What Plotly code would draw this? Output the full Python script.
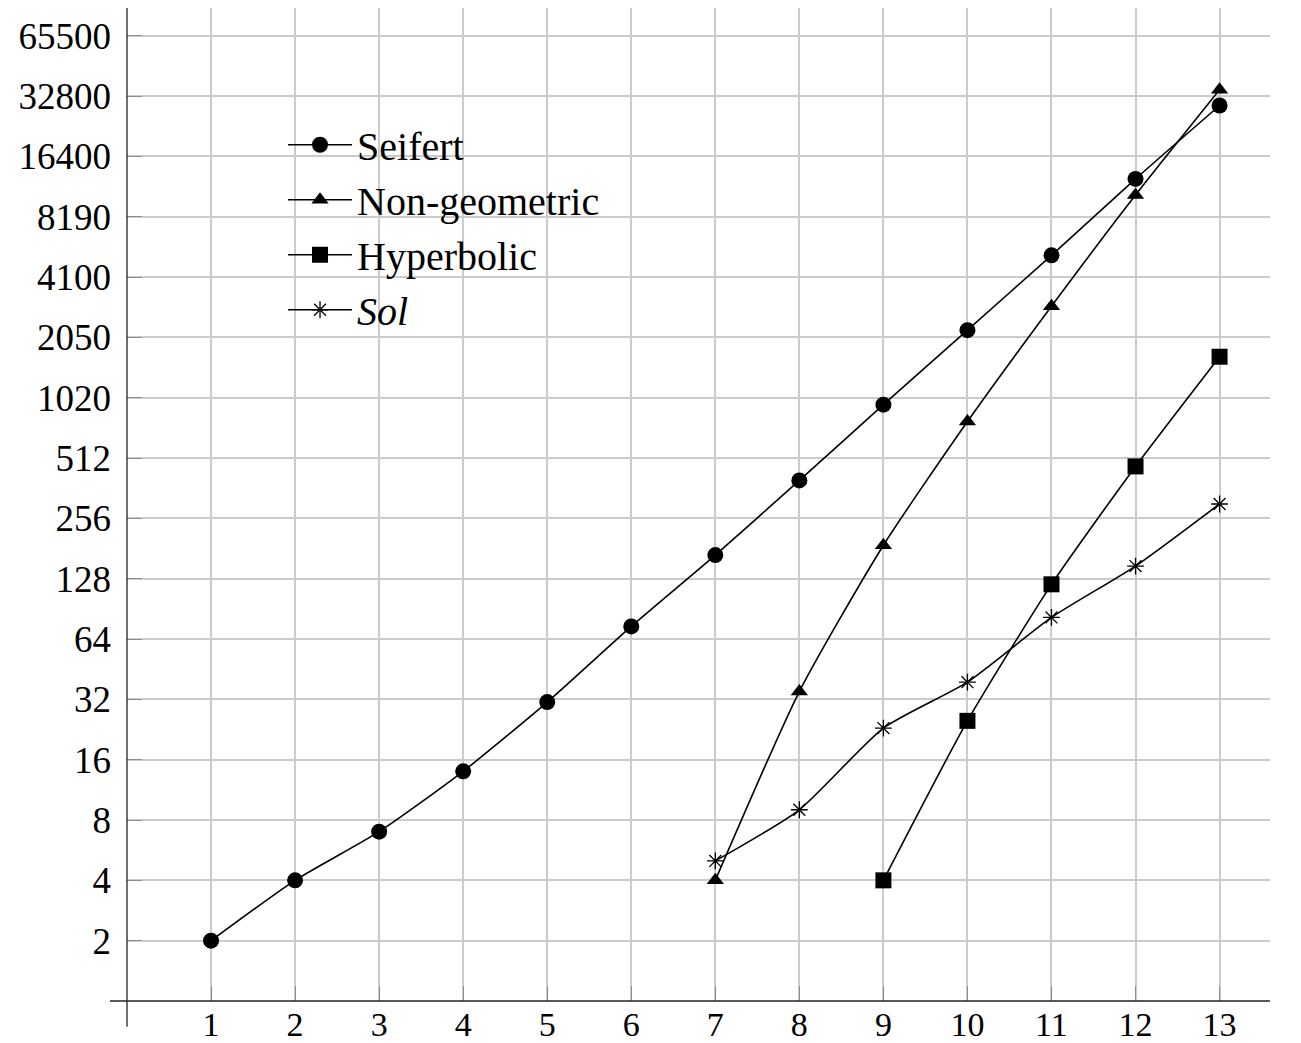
import math
import plotly.graph_objects as go

# ---- data ----
x_seifert = list(range(1, 14))
seifert = [2, 4, 7, 14, 31, 74, 168, 396, 945, 2225, 5260, 12650, 29400]

x_nongeo = list(range(7, 14))
nongeo = [4, 35, 188, 779, 2930, 10510, 35200]

x_hyper = list(range(9, 14))
hyper = [4, 25, 120, 465, 1640]

x_sol = list(range(7, 14))
sol = [5, 9, 23, 39, 82, 148, 302]

x_ticks = list(range(1, 14))
y_tickvals = [2 ** k for k in range(1, 17)]
y_ticktext = ["2", "4", "8", "16", "32", "64", "128", "256", "512",
              "1020", "2050", "4100", "8190", "16400", "32800", "65500"]

FONT = "Liberation Serif"
LINE_W = 1.6
GRID_C = "#cbcbcb"
TICK_C = "#8c8c8c"

fig = go.Figure()

def add(xs, ys, name, symbol, size, open_marker=False):
    marker = dict(symbol=symbol, size=size, color="black")
    if open_marker:
        marker["line"] = dict(color="black", width=1.3)
    fig.add_trace(go.Scatter(
        x=xs, y=ys, name=name, mode="lines+markers",
        line=dict(color="black", width=LINE_W, shape="spline", smoothing=0.6),
        marker=marker,
    ))

add(x_seifert, seifert, "Seifert", "circle", 16)
add(x_nongeo, nongeo, "Non-geometric", "triangle-up", 15)
add(x_hyper, hyper, "Hyperbolic", "square", 16)
add(x_sol, sol, "<i>Sol</i>", "asterisk-open", 14, open_marker=True)

x_range = [0, 13.6]
y_range = [0, 16.46 * math.log10(2)]

# page body has an 8px margin: figure is 8px smaller and offsets compensate
fig.update_layout(
    width=1293, height=1035,
    margin=dict(l=119, r=31, t=0, b=42),
    paper_bgcolor="white", plot_bgcolor="white",
    font=dict(family=FONT, size=37, color="black"),
    showlegend=True,
    legend=dict(
        x=0.1365, y=0.895, xanchor="left", yanchor="top",
        bgcolor="rgba(0,0,0,0)", borderwidth=0,
        font=dict(family=FONT, size=40, color="black"),
        tracegroupgap=0, itemwidth=64,
    ),
    xaxis=dict(
        range=x_range, tickvals=x_ticks, ticktext=[str(v) for v in x_ticks],
        showgrid=True, gridcolor=GRID_C, gridwidth=1.5,
        ticks="inside", ticklen=15, tickwidth=1.2, tickcolor=TICK_C,
        showline=False, zeroline=False, automargin=False,
        ticklabelstandoff=0,
        tickfont=dict(family=FONT, size=34),
    ),
    yaxis=dict(
        type="log", range=y_range, tickvals=y_tickvals, ticktext=y_ticktext,
        showgrid=True, gridcolor=GRID_C, gridwidth=1.5,
        ticks="inside", ticklen=15, tickwidth=1.2, tickcolor=TICK_C,
        showline=False, zeroline=False, automargin=False,
        ticklabelstandoff=15,
        tickfont=dict(family=FONT, size=37),
    ),
    xaxis2=dict(
        overlaying="x", range=x_range, tickvals=x_ticks,
        showticklabels=False, showgrid=False, zeroline=False,
        ticks="outside", ticklen=15, tickwidth=1.2, tickcolor=TICK_C,
        side="bottom", anchor="y", automargin=False,
    ),
    yaxis2=dict(
        overlaying="y", type="log", range=y_range, tickvals=y_tickvals,
        showticklabels=False, showgrid=False, zeroline=False,
        ticks="outside", ticklen=15, tickwidth=1.2, tickcolor=TICK_C,
        side="left", anchor="x", automargin=False,
    ),
)

# white box behind the legend (covers grid lines)
fig.add_shape(type="rect", xref="paper", yref="paper",
              x0=0.1295, x1=0.4532, y0=0.6576, y1=0.8872,
              fillcolor="white", line=dict(width=0), layer="between")

# axis lines (pgfplots "middle" style, extending past the origin)
fig.add_shape(type="line", xref="paper", yref="paper",
              x0=-17 / 1143, x1=1, y0=0, y1=0,
              line=dict(color="#222222", width=1.3), layer="above")
fig.add_shape(type="line", xref="paper", yref="paper",
              x0=0, x1=0, y0=-25.7 / 993, y1=1,
              line=dict(color="#222222", width=1.3), layer="above")

fig.write_html("out.html")
